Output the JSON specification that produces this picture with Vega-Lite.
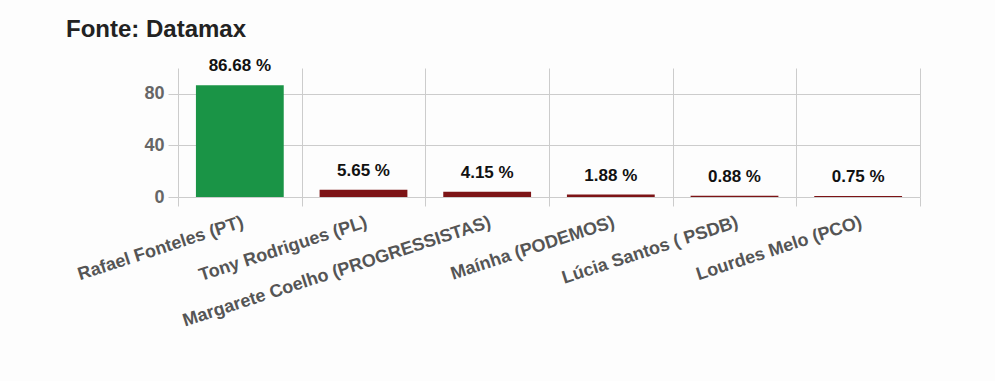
{
  "$schema": "https://vega.github.io/schema/vega-lite/v6.json",
  "autosize": "none",
  "width": 742,
  "height": 129,
  "padding": {"left": 178, "top": 68, "right": 75, "bottom": 184},
  "background": "#fdfdfd",
  "title": {
    "text": "Fonte: Datamax",
    "anchor": "start",
    "frame": "group",
    "dx": -112,
    "offset": 15,
    "font": "Liberation Sans",
    "fontSize": 24,
    "fontWeight": "bold",
    "color": "#222222"
  },
  "config": {
    "view": {"stroke": null},
    "font": "Liberation Sans"
  },
  "data": {
    "values": [
      {"candidato": "Rafael Fonteles (PT)", "pct": 86.68, "label": "86.68 %", "lider": "sim"},
      {"candidato": "Tony Rodrigues (PL)", "pct": 5.65, "label": "5.65 %", "lider": "nao"},
      {"candidato": "Margarete Coelho (PROGRESSISTAS)", "pct": 4.15, "label": "4.15 %", "lider": "nao"},
      {"candidato": "Maínha (PODEMOS)", "pct": 1.88, "label": "1.88 %", "lider": "nao"},
      {"candidato": "Lúcia Santos ( PSDB)", "pct": 0.88, "label": "0.88 %", "lider": "nao"},
      {"candidato": "Lourdes Melo (PCO)", "pct": 0.75, "label": "0.75 %", "lider": "nao"}
    ]
  },
  "encoding": {
    "x": {
      "field": "candidato",
      "type": "nominal",
      "sort": null,
      "scale": {"paddingInner": 0, "paddingOuter": 0},
      "axis": {
        "title": null,
        "labelAngle": -18,
        "labelAlign": "right",
        "labelBaseline": "top",
        "labelFontSize": 18,
        "labelFontWeight": "bold",
        "labelColor": "#555555",
        "labelPadding": 7,
        "labelLimit": 400,
        "grid": true,
        "gridColor": "#cccccc",
        "tickBand": "extent",
        "ticks": true,
        "tickSize": 9,
        "tickColor": "#cccccc",
        "domain": false
      }
    },
    "y": {
      "field": "pct",
      "type": "quantitative",
      "scale": {"domain": [0, 100], "nice": false},
      "axis": {
        "title": null,
        "values": [0, 40, 80],
        "labelFontSize": 18,
        "labelFontWeight": "bold",
        "labelColor": "#666666",
        "labelPadding": 4,
        "grid": true,
        "gridColor": "#cccccc",
        "tickSize": 10,
        "tickColor": "#cccccc",
        "domain": false
      }
    }
  },
  "layer": [
    {
      "mark": {"type": "bar", "width": {"band": 0.71}},
      "encoding": {
        "color": {
          "field": "lider",
          "type": "nominal",
          "scale": {"domain": ["sim", "nao"], "range": ["#1a9446", "#7d1416"]},
          "legend": null
        }
      }
    },
    {
      "mark": {"type": "text", "dy": -14, "baseline": "alphabetic", "fontSize": 17, "fontWeight": "bold", "color": "#111111"},
      "encoding": {
        "text": {"field": "label"}
      }
    }
  ]
}
